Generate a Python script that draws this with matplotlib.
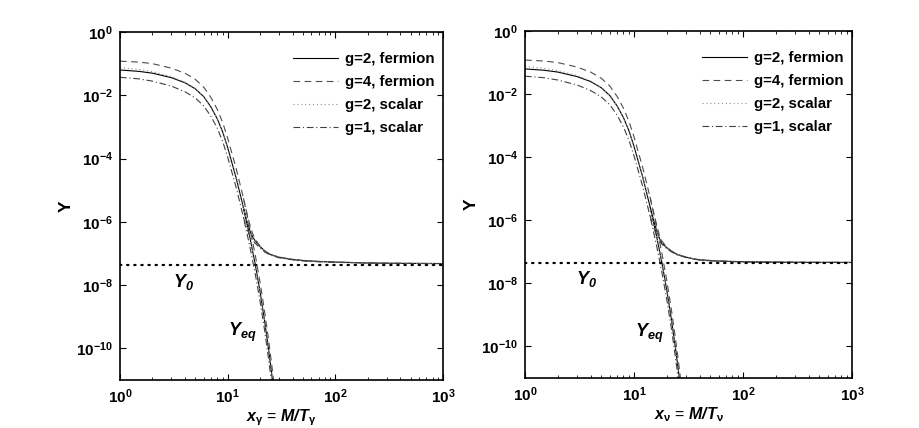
import matplotlib
matplotlib.use("Agg")
import matplotlib.pyplot as plt
from matplotlib.ticker import LogLocator, NullLocator, LogFormatterSciNotation
import numpy as np

plt.rcParams["font.family"] = ["Liberation Sans", "DejaVu Sans"]
plt.rcParams["font.weight"] = "bold"
plt.rcParams["mathtext.fontset"] = "custom"
plt.rcParams["mathtext.rm"] = "Liberation Sans:bold:italic"
plt.rcParams["mathtext.it"] = "Liberation Sans:bold:italic"
plt.rcParams["mathtext.bf"] = "Liberation Sans:bold"
plt.rcParams["mathtext.sf"] = "Liberation Sans"

# equilibrium abundances (same in both panels)
x_eq = [1, 1.5, 2, 3, 4, 5, 6, 7, 8, 9, 10, 12, 14, 16, 18, 20, 22, 24, 26, 28]
yeq_f2 = [0.063, 0.057, 0.05, 0.036, 0.025, 0.016, 9.0e-3, 4.2e-3, 1.8e-3, 6.8e-4, 2.2e-4,
          2.4e-5, 2.8e-6, 3.5e-7, 4.6e-8, 6.0e-9, 7.5e-10, 9.0e-11, 1.05e-11, 1.2e-12]
yeq_f4 = [0.12, 0.112, 0.1, 0.072, 0.05, 0.032, 0.018, 8.4e-3, 3.6e-3, 1.35e-3, 4.4e-4,
          4.8e-5, 5.6e-6, 7.0e-7, 9.2e-8, 1.2e-8, 1.5e-9, 1.8e-10, 2.1e-11, 2.4e-12]
yeq_s2 = [0.075, 0.066, 0.056, 0.039, 0.026, 0.0165, 9.2e-3, 4.3e-3, 1.82e-3, 6.9e-4, 2.2e-4,
          2.4e-5, 2.8e-6, 3.5e-7, 4.6e-8, 6.0e-9, 7.5e-10, 9.0e-11, 1.05e-11, 1.2e-12]
yeq_s1 = [0.037, 0.033, 0.028, 0.0195, 0.013, 8.2e-3, 4.6e-3, 2.15e-3, 9.1e-4, 3.4e-4, 1.1e-4,
          1.2e-5, 1.4e-6, 1.75e-7, 2.3e-8, 3.0e-9, 3.8e-10, 4.5e-11, 5.2e-12, 6.0e-13]

# freeze-out, photon temperature (left)
x_fo_a = [14, 15, 16, 17, 18, 20, 22, 25, 30, 40, 50, 70, 100, 150, 200, 300, 500, 1000]
ya_f2 = [2.8e-6, 1.1e-6, 5.4e-7, 3.4e-7, 2.5e-7, 1.65e-7, 1.2e-7, 9.2e-8, 7.6e-8, 6.5e-8,
         6.0e-8, 5.6e-8, 5.35e-8, 5.15e-8, 5.0e-8, 4.9e-8, 4.85e-8, 4.8e-8]
ya_f4 = [5.6e-6, 2.0e-6, 8.4e-7, 4.4e-7, 2.8e-7, 1.7e-7, 1.22e-7, 9.3e-8, 7.5e-8, 6.4e-8,
         5.9e-8, 5.5e-8, 5.3e-8, 5.1e-8, 5.0e-8, 4.9e-8, 4.85e-8, 4.8e-8]
ya_s2 = [2.8e-6, 1.12e-6, 5.5e-7, 3.5e-7, 2.6e-7, 1.7e-7, 1.25e-7, 9.5e-8, 7.8e-8, 6.6e-8,
         6.1e-8, 5.7e-8, 5.4e-8, 5.2e-8, 5.05e-8, 4.95e-8, 4.85e-8, 4.8e-8]
ya_s1 = [1.4e-6, 6.4e-7, 3.7e-7, 2.6e-7, 2.1e-7, 1.5e-7, 1.12e-7, 8.8e-8, 7.3e-8, 6.3e-8,
         5.8e-8, 5.5e-8, 5.25e-8, 5.1e-8, 5.0e-8, 4.9e-8, 4.85e-8, 4.8e-8]

# freeze-out, neutrino temperature (right)
x_fo_b = [14, 15, 16, 17, 18, 20, 22, 25, 30, 35, 40, 50, 60, 70, 80, 100, 120, 150, 200,
          250, 300, 400, 500, 700, 1000]
yb_f2 = [2.8e-6, 1.1e-6, 5.2e-7, 2.8e-7, 1.9e-7, 1.35e-7, 1.05e-7, 8.2e-8, 6.8e-8, 6.0e-8,
         5.6e-8, 5.3e-8, 5.1e-8, 5.0e-8, 4.95e-8, 4.85e-8, 4.8e-8, 4.75e-8, 4.7e-8, 4.68e-8,
         4.66e-8, 4.64e-8, 4.62e-8, 4.6e-8, 4.6e-8]
yb_f4 = [5.6e-6, 2.0e-6, 8.0e-7, 3.6e-7, 2.2e-7, 1.4e-7, 1.07e-7, 8.3e-8, 6.8e-8, 6.0e-8,
         5.5e-8, 5.25e-8, 5.05e-8, 5.1e-8, 4.85e-8, 4.95e-8, 4.7e-8, 4.85e-8, 4.6e-8, 4.8e-8,
         4.6e-8, 4.75e-8, 4.55e-8, 4.7e-8, 4.6e-8]
yb_s2 = [2.8e-6, 1.12e-6, 5.3e-7, 2.9e-7, 1.95e-7, 1.38e-7, 1.07e-7, 8.4e-8, 6.9e-8, 6.1e-8,
         5.7e-8, 5.35e-8, 5.15e-8, 5.05e-8, 4.98e-8, 4.88e-8, 4.82e-8, 4.77e-8, 4.72e-8, 4.7e-8,
         4.68e-8, 4.65e-8, 4.63e-8, 4.61e-8, 4.6e-8]
yb_s1 = [1.4e-6, 6.4e-7, 3.6e-7, 2.4e-7, 1.75e-7, 1.25e-7, 1.0e-7, 8.0e-8, 6.6e-8, 5.9e-8,
         5.5e-8, 5.2e-8, 5.1e-8, 4.9e-8, 5.0e-8, 4.8e-8, 4.85e-8, 4.65e-8, 4.75e-8, 4.6e-8,
         4.7e-8, 4.55e-8, 4.7e-8, 4.6e-8, 4.6e-8]

y0 = 4.4e-8
y_ticks = [1e-10, 1e-8, 1e-6, 1e-4, 1e-2, 1]
labels = ["g=2, fermion", "g=4, fermion", "g=2, scalar", "g=1, scalar"]
styles = [dict(ls="-", color="k", lw=0.8),
          dict(ls=(0, (6, 4)), color="0.3", lw=0.8),
          dict(ls=(0, (1, 2.5)), color="0.55", lw=0.8),
          dict(ls=(0, (6, 2.5, 1, 2.5)), color="0.25", lw=0.8)]


def panel(ax, x_fo, fo, xlabel, y0_pos, yeq_pos):
    eqs = [yeq_f2, yeq_f4, yeq_s2, yeq_s1]
    for yeq, yfo, st, lab in zip(eqs, fo, styles, labels):
        ax.plot(x_eq, yeq, label=lab, **st)
        ax.plot(x_fo, yfo, **st)
    ax.plot([1, 1000], [y0, y0], color="k", lw=1.6, ls=(0, (0.6, 2.6)),
            dash_capstyle="round")
    ax.set_xscale("log")
    ax.set_yscale("log")
    ax.set_xlim(1, 1000)
    ax.set_ylim(1e-11, 1)
    ax.set_yticks(y_ticks)
    ax.yaxis.set_minor_locator(NullLocator())
    ax.xaxis.set_minor_locator(LogLocator(base=10.0, subs=np.arange(2, 10)))
    ax.xaxis.set_major_formatter(LogFormatterSciNotation())
    ax.tick_params(which="both", direction="in", top=True, right=True, labelsize=11)
    ax.tick_params(which="major", length=4, width=0.8, pad=5)
    ax.tick_params(which="minor", length=2.2, width=0.6)
    for sp in ax.spines.values():
        sp.set_linewidth(1.2)
    ax.set_ylabel("Y", fontsize=12.5, fontweight="bold", labelpad=2)
    ax.set_xlabel(xlabel, fontsize=11.5, labelpad=1)
    ax.text(y0_pos[0], y0_pos[1], r"$Y_{0}$", fontsize=13, ha="left", va="center")
    ax.text(yeq_pos[0], yeq_pos[1], r"$Y_{eq}$", fontsize=13, ha="left", va="center")
    ax.legend(loc="upper right", bbox_to_anchor=(1.015, 0.98), frameon=False,
              fontsize=10.8, handlelength=3.0, handletextpad=0.45, labelspacing=0.6)


fig = plt.figure(figsize=(9.19, 4.28), dpi=100)
ax1 = fig.add_axes([0.1306, 0.1121, 0.3515, 0.8131])
ax2 = fig.add_axes([0.5713, 0.1168, 0.3558, 0.8107])

panel(ax1, x_fo_a, [ya_f2, ya_f4, ya_s2, ya_s1],
      r"$x_{\mathsf{\gamma}}$ = $M/T_{\mathsf{\gamma}}$", (3.1, 1.3e-8), (10.0, 3.2e-10))
panel(ax2, x_fo_b, [yb_f2, yb_f4, yb_s2, yb_s1],
      r"$x_{\mathsf{\nu}}$ = $M/T_{\mathsf{\nu}}$", (2.94, 1.4e-8), (10.2, 2.6e-10))

fig.savefig("out.png", dpi=100)
